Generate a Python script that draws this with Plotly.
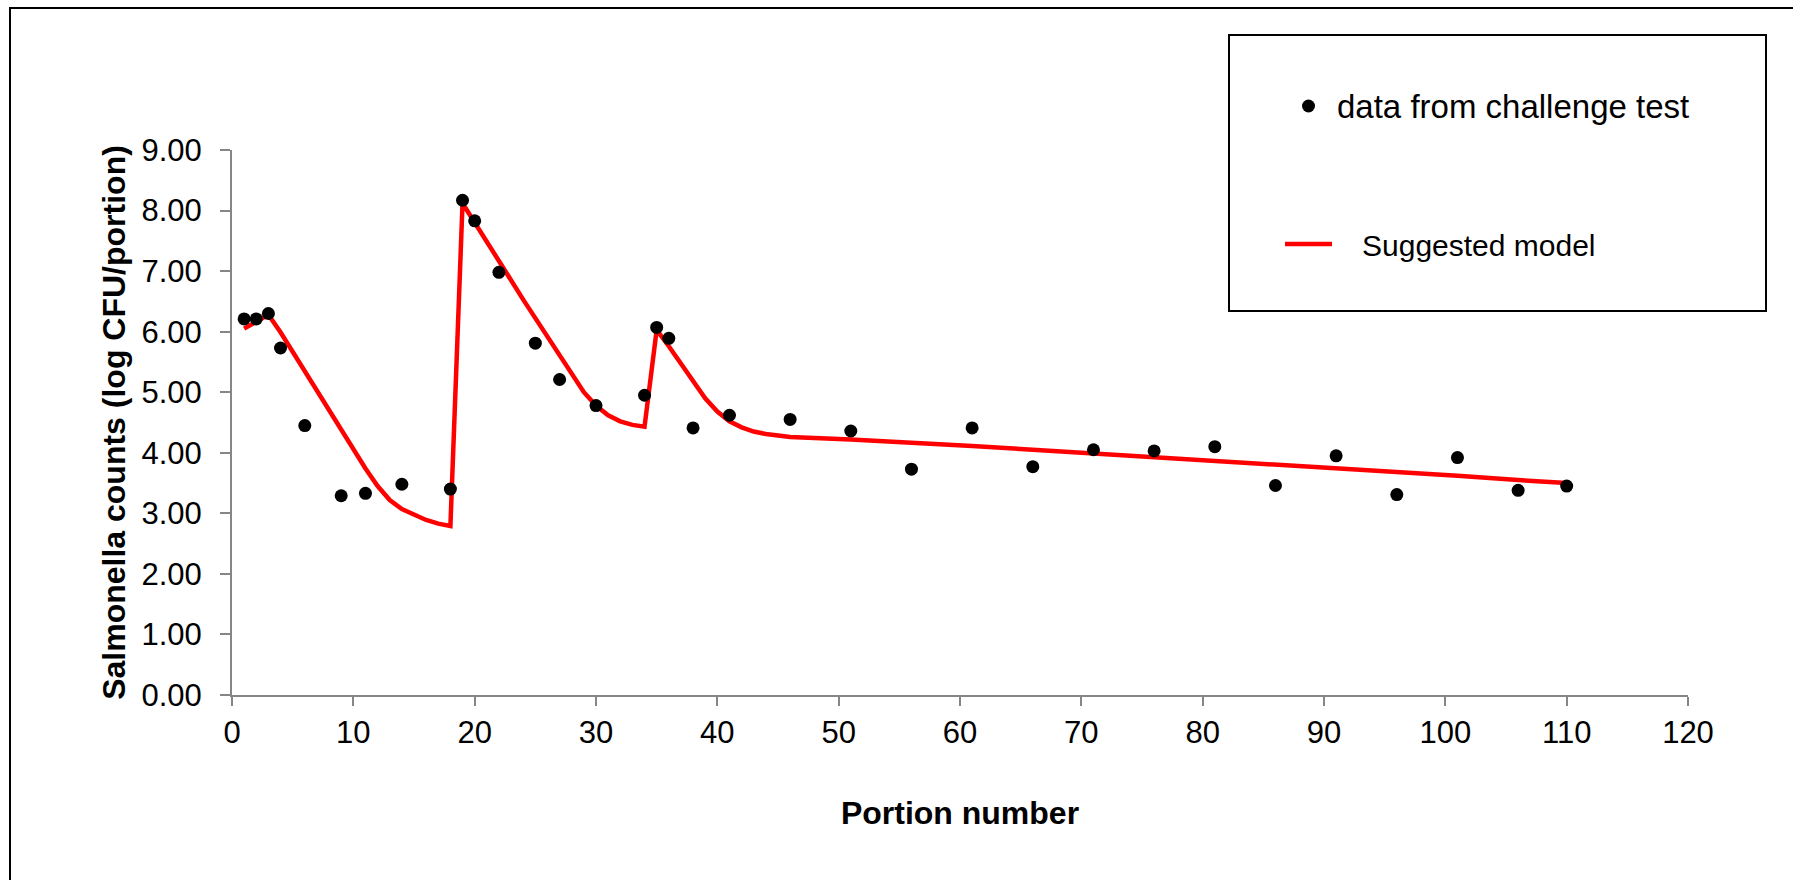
import plotly.graph_objects as go

# ---- data ----
portion = [1, 2, 3, 4, 6, 9, 11, 14, 18, 19, 20, 22, 25, 27, 30, 34, 35, 36, 38, 41,
           46, 51, 56, 61, 66, 71, 76, 81, 86, 91, 96, 101, 106, 110]
counts = [6.21, 6.21, 6.30, 5.73, 4.45, 3.29, 3.33, 3.48, 3.40, 8.17, 7.83, 6.98, 5.81, 5.21,
          4.78, 4.95, 6.07, 5.89, 4.41, 4.62, 4.55, 4.36, 3.73, 4.41, 3.77, 4.05, 4.03,
          4.10, 3.46, 3.95, 3.31, 3.92, 3.38, 3.45]

model_x = [1, 2, 3, 4, 5, 6, 7, 8, 9, 10, 11, 12, 13, 14, 15, 16, 17, 18,
           19, 20, 21, 22, 23, 24, 25, 26, 27, 28, 29, 30, 31, 32, 33, 34,
           35, 36, 37, 38, 39, 40, 41, 42, 43, 44, 45, 46,
           51, 56, 61, 66, 71, 76, 81, 86, 91, 96, 101, 106, 110]
model_y = [6.05, 6.17, 6.28, 5.99, 5.67, 5.35, 5.02, 4.70, 4.38, 4.05, 3.74, 3.45, 3.22, 3.07,
           2.97, 2.89, 2.83, 2.79,
           8.12, 7.81, 7.49, 7.17, 6.85, 6.53, 6.22, 5.90, 5.59, 5.28, 5.00, 4.78, 4.62, 4.52,
           4.46, 4.43,
           6.03, 5.76, 5.47, 5.17, 4.90, 4.68, 4.52, 4.42, 4.35, 4.31, 4.28, 4.26,
           4.22, 4.17, 4.11, 4.05, 3.99, 3.93, 3.86, 3.80, 3.74, 3.68, 3.62, 3.55, 3.50]

x_ticks = list(range(0, 121, 10))
y_ticks = list(range(0, 10))

FONT = "Arial, Liberation Sans, sans-serif"
AXIS_GRAY = "#868686"

W, H = 1793, 880
L, R, T, B = 232, 105, 150, 185
PW, PH = W - L - R, H - T - B


def px_x(p):
    return (p - L) / PW


def px_y(p):
    return (H - B - p) / PH


fig = go.Figure()

fig.add_trace(go.Scatter(
    x=model_x, y=model_y, mode="lines",
    name="\u00a0\u00a0\u00a0Suggested model",
    line=dict(color="#FF0000", width=4.5),
    legendgroup="b", legendrank=2,
))
fig.add_trace(go.Scatter(
    x=portion, y=counts, mode="markers",
    name="<span style='font-size:33px'>data from challenge test</span>",
    marker=dict(color="black", size=13, line=dict(width=0)),
    legendgroup="a", legendrank=1,
))

fig.update_layout(
    width=W, height=H,
    margin=dict(l=L, r=R, t=T, b=B, pad=0),
    paper_bgcolor="white", plot_bgcolor="white",
    font=dict(family=FONT, color="black", size=31),
    showlegend=True,
    legend=dict(
        x=px_x(1280), y=px_y(80), xanchor="left", yanchor="top",
        xref="paper", yref="paper",
        bgcolor="rgba(0,0,0,0)", borderwidth=0,
        font=dict(family=FONT, size=30, color="black"),
        traceorder="grouped", tracegroupgap=96,
        itemwidth=47,
    ),
    xaxis=dict(
        range=[0, 120], tickmode="array", tickvals=x_ticks,
        ticktext=[str(v) for v in x_ticks],
        showgrid=False, zeroline=False,
        showline=True, linecolor=AXIS_GRAY, linewidth=2,
        ticks="outside", ticklen=9, tickwidth=2, tickcolor=AXIS_GRAY,
        tickfont=dict(family=FONT, size=31, color="black"),
        title=dict(text="Portion number", standoff=52,
                   font=dict(family=FONT, size=32, color="black", weight="bold")),
    ),
    yaxis=dict(
        range=[0, 9], tickmode="array", tickvals=y_ticks,
        ticktext=[f"{v:.2f}" for v in y_ticks],
        showgrid=False, zeroline=False,
        showline=True, linecolor=AXIS_GRAY, linewidth=2,
        ticks="outside", ticklen=10, tickwidth=2, tickcolor=AXIS_GRAY,
        tickfont=dict(family=FONT, size=31, color="black"),
        ticklabelstandoff=12,
        title=dict(text="Salmonella counts (log CFU/portion)", standoff=6,
                   font=dict(family=FONT, size=32, color="black", weight="bold")),
    ),
    shapes=[
        # outer chart border (extends past right/bottom edges)
        dict(type="rect", xref="paper", yref="paper",
             x0=px_x(10), x1=px_x(1810), y0=px_y(900), y1=px_y(8),
             line=dict(color="black", width=2), fillcolor="rgba(0,0,0,0)", layer="above"),
        # legend box
        dict(type="rect", xref="paper", yref="paper",
             x0=px_x(1229), x1=px_x(1766), y0=px_y(311), y1=px_y(35),
             line=dict(color="black", width=2), fillcolor="rgba(0,0,0,0)", layer="above"),
    ],
)

fig.write_html("out.html")
